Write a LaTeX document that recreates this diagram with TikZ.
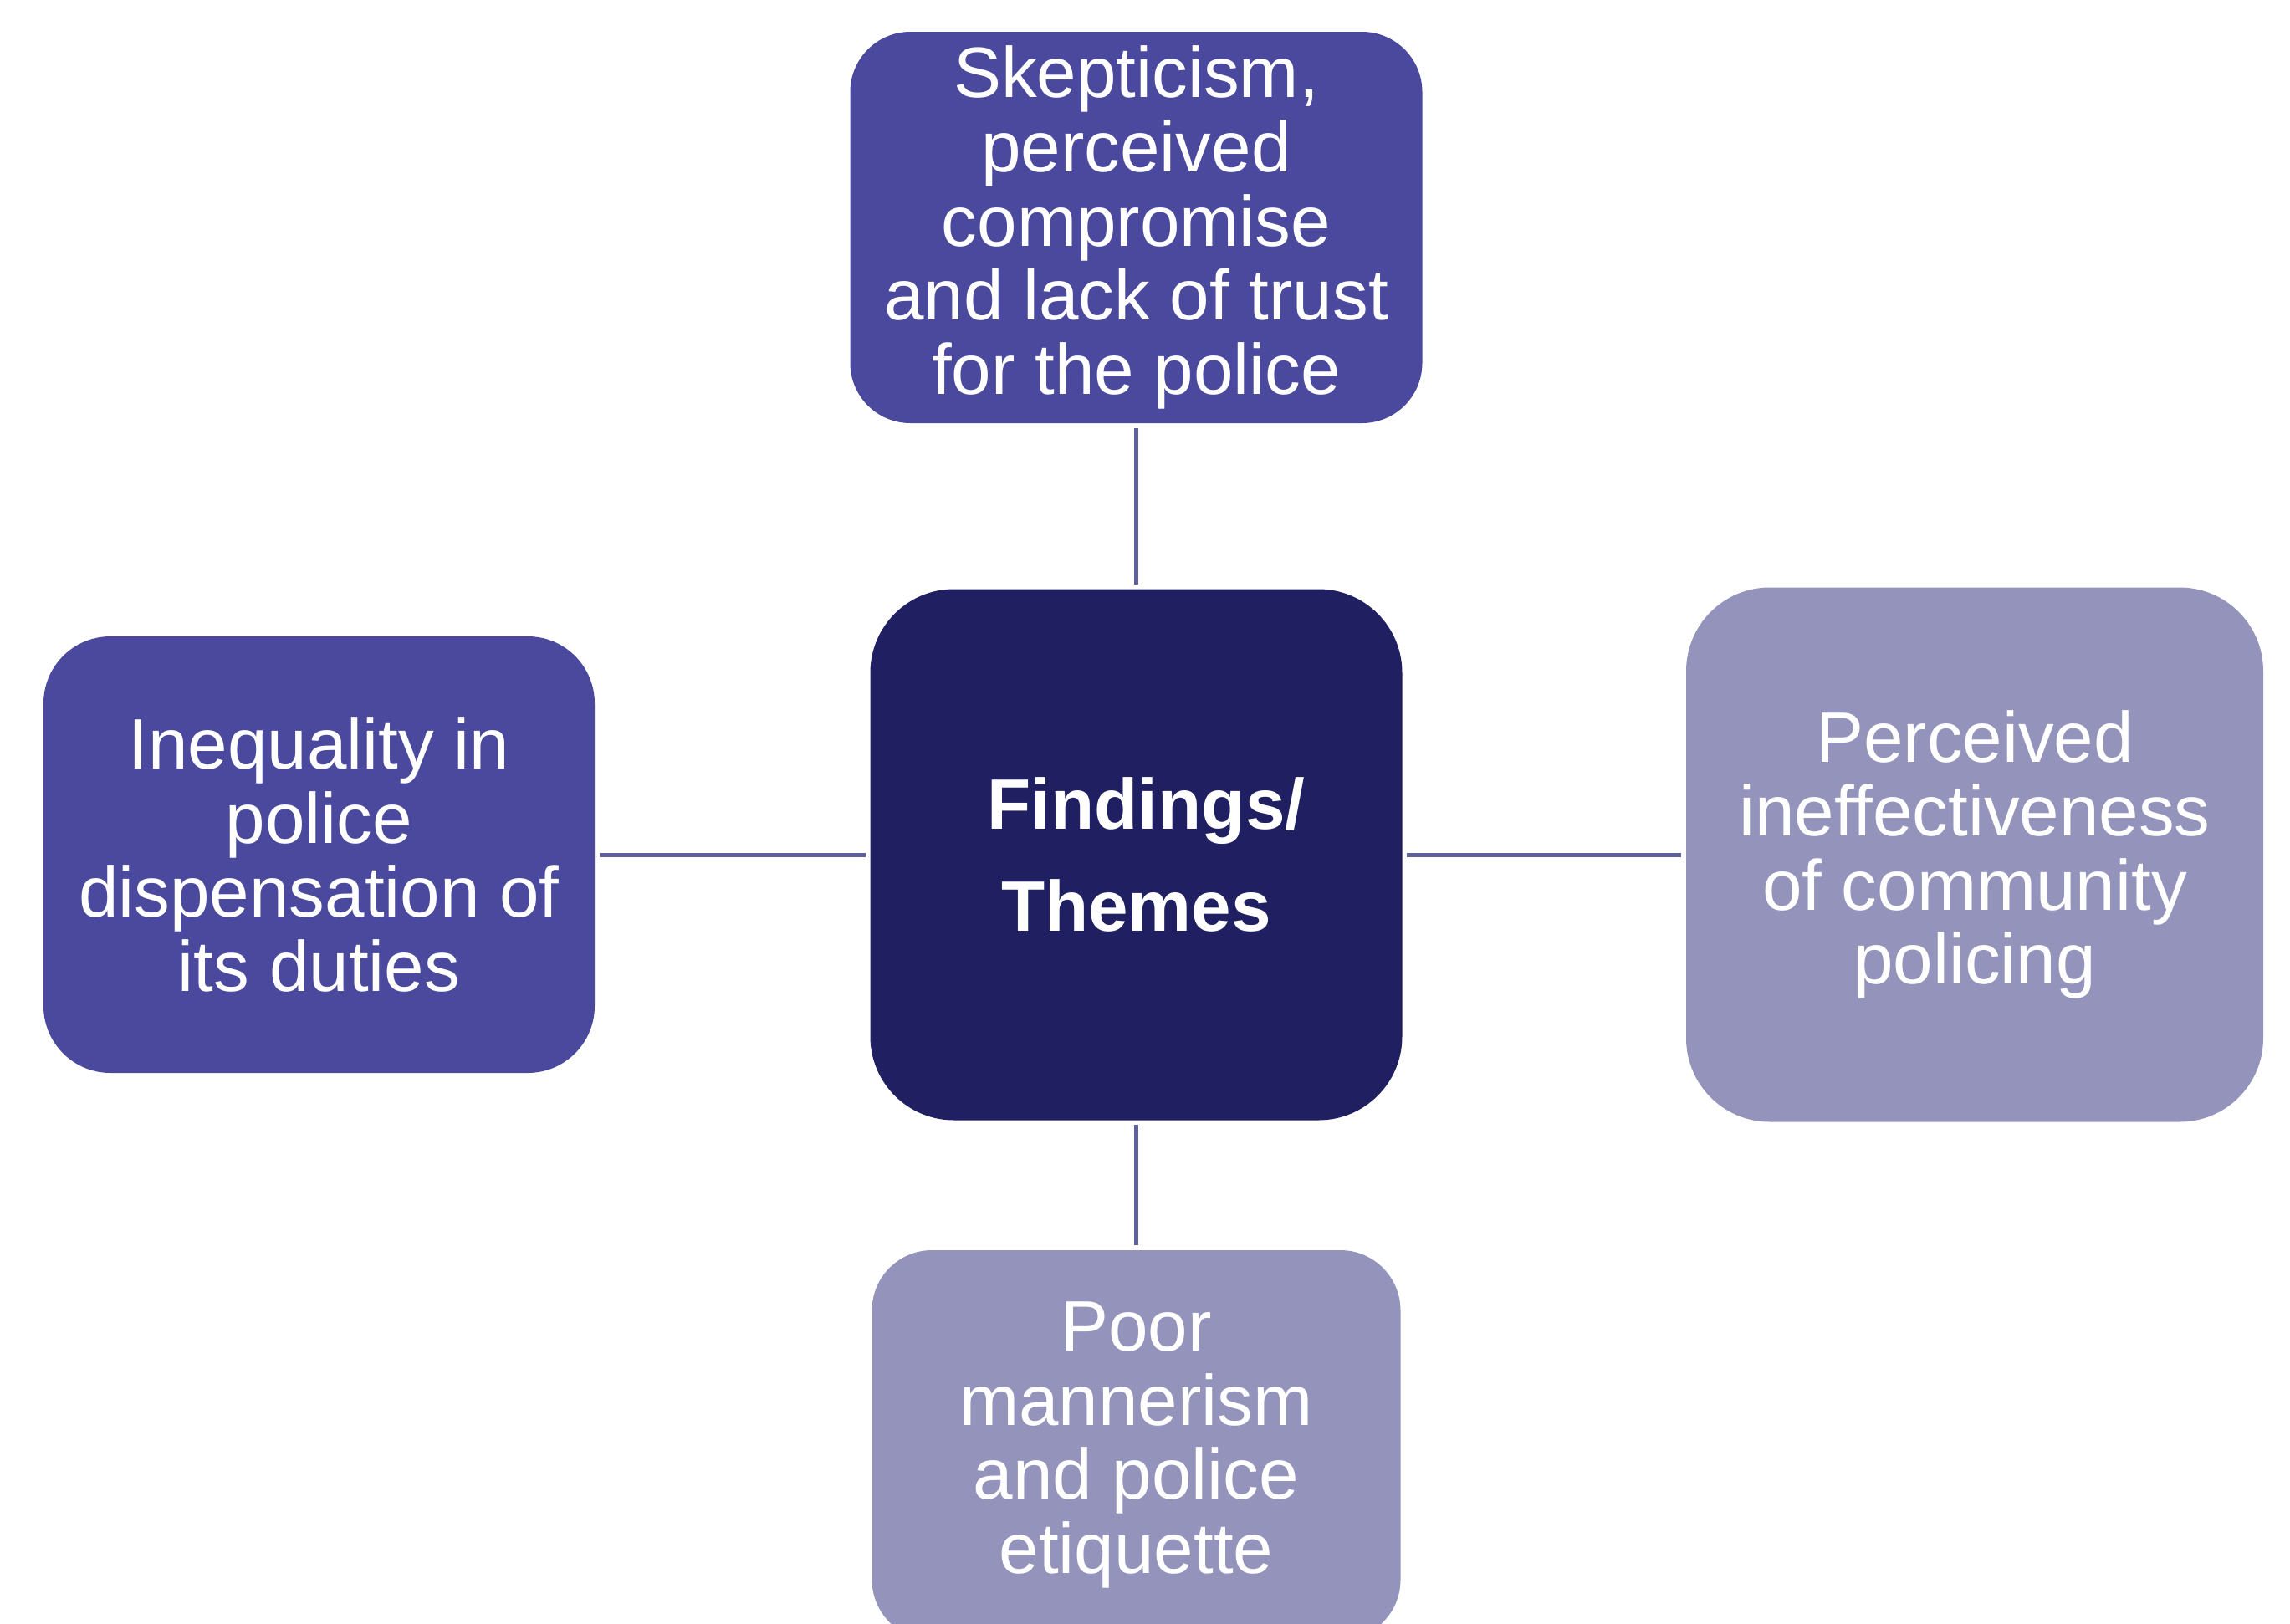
\documentclass[tikz,border=0pt]{standalone}
\usepackage{fontspec}
\setmainfont{Liberation Sans}
\definecolor{themeblue}{RGB}{74,73,158}
\definecolor{hubblue}{RGB}{31,31,98}
\definecolor{themelilac}{RGB}{147,147,187}
\definecolor{linkcol}{RGB}{95,95,155}
\tikzset{
  themebox/.style={rectangle, text=white, align=center, inner sep=0pt,
    font=\fontsize{24.3}{25.2}\selectfont},
  link/.style={draw=linkcol, line width=0.05cm, shorten >=0.05cm, shorten <=0.05cm}
}
\begin{document}
\begin{tikzpicture}

\clip (0,0) rectangle (27.38,-19.42);

% centre
\node[themebox, fill=hubblue, minimum width=6.36cm, minimum height=6.35cm,
  rounded corners=1cm, font=\bfseries\fontsize{24.3}{34.7}\selectfont]
  (hub) at (13.585,-10.22) {\hspace*{0.28em}Findings/\\Themes};

% themes
\node[themebox, fill=themeblue, minimum width=6.84cm, minimum height=4.68cm,
  rounded corners=0.72cm] (trust) at (13.585,-2.72)
  {Skepticism,\\perceived\\compromise\\and lack of trust\\for the police};

\node[themebox, fill=themeblue, minimum width=6.59cm, minimum height=5.22cm,
  rounded corners=0.8cm] (inequality) at (3.815,-10.22)
  {Inequality in\\police\\dispensation of\\its duties};

\node[themebox, fill=themelilac, minimum width=6.90cm, minimum height=6.39cm,
  rounded corners=1cm] (ineffective) at (23.61,-10.22)
  {Perceived\\ineffectiveness\\of community\\policing};

\node[themebox, fill=themelilac, minimum width=6.32cm, minimum height=4.66cm,
  rounded corners=0.72cm] (manner) at (13.585,-17.28)
  {Poor\\mannerism\\and police\\etiquette};

\foreach \n in {trust,inequality,ineffective,manner}
  \draw[link] (hub) -- (\n);

\end{tikzpicture}
\end{document}
